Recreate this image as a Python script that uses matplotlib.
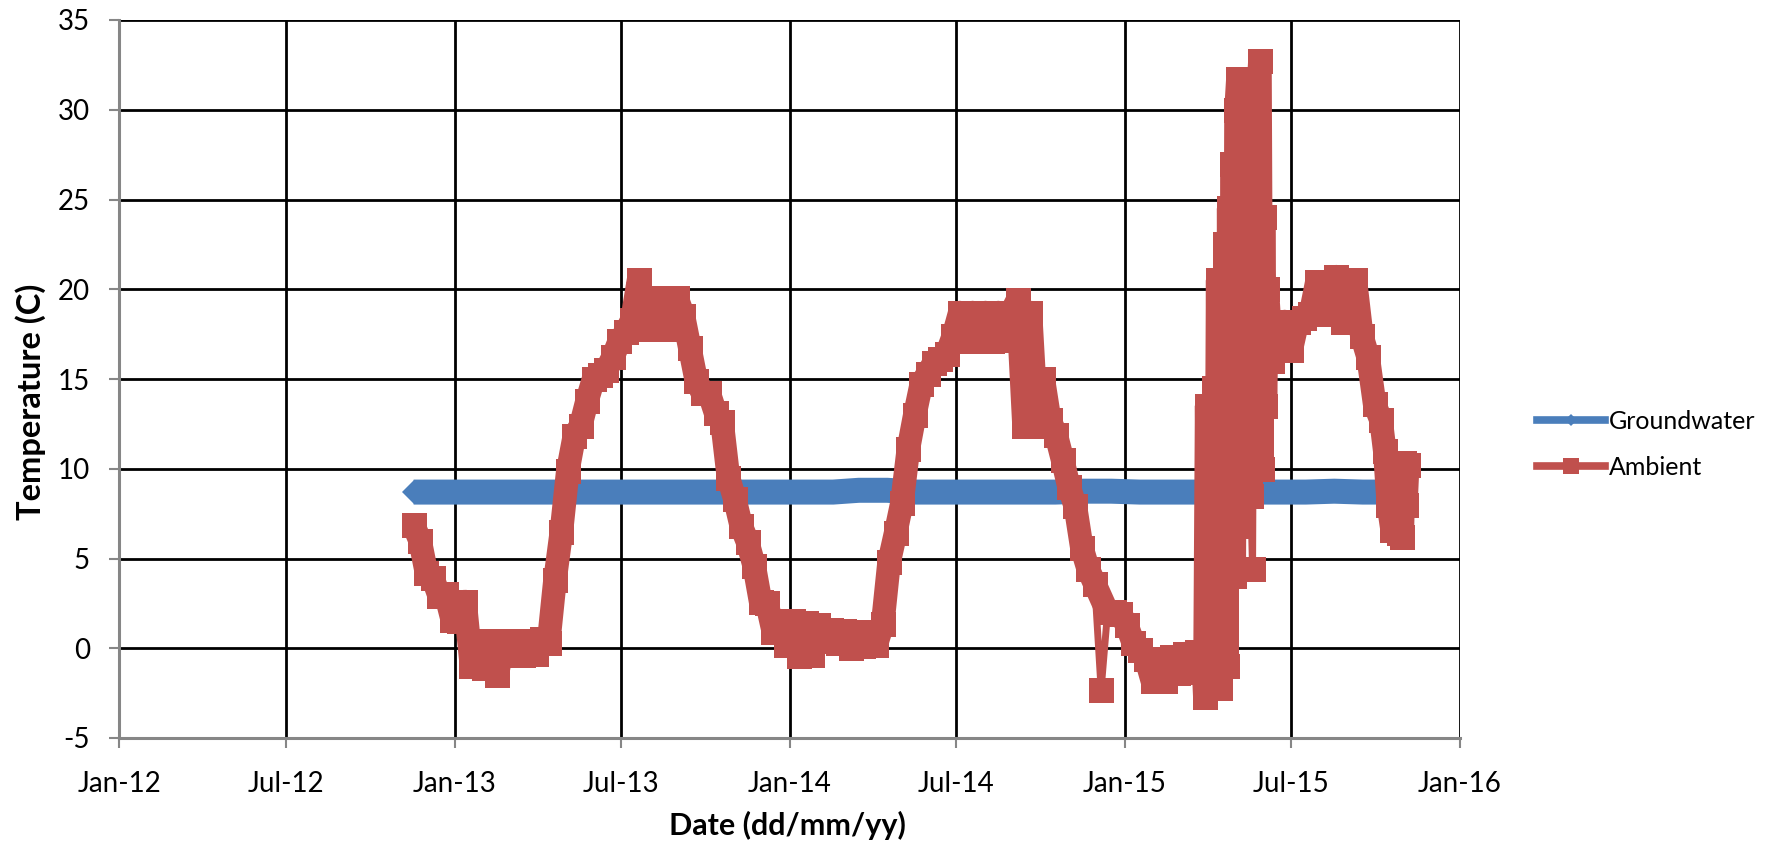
import numpy as np
import pandas as pd
import matplotlib
matplotlib.use('Agg')
import matplotlib.pyplot as plt
import matplotlib.dates as mdates
from matplotlib.lines import Line2D

plt.rcParams['font.family'] = ['Lato', 'DejaVu Sans']
plt.rcParams['axes.unicode_minus'] = False

# groundwater logger, monthly readings (C)
gw_start = '2012-11-17'
gw_temp = [8.7, 8.7, 8.7, 8.7, 8.7, 8.7, 8.7, 8.7, 8.7, 8.7, 8.7, 8.7,
           8.7, 8.7, 8.7, 8.7, 8.8, 8.8, 8.7, 8.7, 8.7, 8.7, 8.7, 8.7,
           8.75, 8.75, 8.7, 8.7, 8.7, 8.7, 8.7, 8.7, 8.7, 8.75, 8.7, 8.7]

# ambient logger, weekly readings Nov 2012 - Mar 2015
amb_wk1_start = '2012-11-17'
amb_wk1 = [6.85, 6.0, 4.2, 3.9, 2.9, 3.0, 1.6, 1.5, 2.6, -1.0,
           0.4, -1.1, 0.4, -1.47, 0.35, -0.4, 0.4, -0.36, 0.4, -0.3,
           0.5, 0.3, 3.8, 6.5, 9.9, 11.8, 12.4, 13.8, 15.0, 15.2,
           15.5, 16.2, 17.1, 17.6, 18.3, 20.5, 17.8, 18.6, 17.8, 19.5,
           17.8, 19.5, 18.5, 16.7, 14.9, 14.2, 14.2, 13.1, 12.6, 9.5,
           8.3, 6.8, 5.9, 4.6, 2.6, 2.5, 0.9, 1.5, 0.2, 1.5,
           -0.45, 1.4, -0.4, 1.3, 0.4, 1.0, 0.3, 0.95, 0.0, 0.9,
           0.1, 0.9, 0.2, 1.35, 4.8, 6.4, 8.1, 11.1, 13.0, 14.7,
           15.3, 15.9, 16.1, 16.4, 17.4, 18.7, 17.1, 18.7, 17.1, 18.7,
           17.1, 18.7, 17.2, 18.7, 19.4, 12.4, 18.7, 12.4, 15.0, 12.7,
           11.9, 10.5, 9.0, 7.9, 5.6, 4.4, 3.6, -2.3, 2.0, 2.0,
           1.9, 1.3, 0.3, -0.1, -0.6, -1.85, -0.6, -1.85, -0.5, -1.4,
           -0.3, -1.2, -0.2]

# spring 2015, every second day (very noisy readings)
amb_spr_start = '2015-03-25'
amb_spr = [-1.3, -0.4, -2.7, 13.5, 2.0, 11.0, -1.5, 14.5, 0.0, 20.5,
           -2.2, 18.0, 3.0, 22.5, -1.0, 24.5, 6.0, 27.0, 4.0, 30.0,
           31.7, 8.0, 29.0, 6.8, 27.5, 11.0, 30.5, 8.5, 4.4, 26.0,
           13.0, 31.0, 32.7, 10.0, 24.0, 13.5, 20.0]

# summer 2015, weekly
amb_wk2_start = '2015-06-10'
amb_wk2 = [16.0, 16.6, 18.2, 16.6, 18.2, 18.4, 18.6, 20.4, 18.6, 20.0,
           20.7, 18.2, 19.5, 20.5, 17.4, 16.2, 13.6, 12.7]

# last readings
amb_tail_dates = ['2015-10-11', '2015-10-15', '2015-10-19', '2015-10-23',
                  '2015-10-27', '2015-10-30', '2015-11-01', '2015-11-03',
                  '2015-11-05']
amb_tail = [11.0, 8.0, 6.6, 8.5, 6.4, 6.2, 10.3, 8.0, 10.2]

# single odd readings that sit apart from the band
amb_outlier_dates = ['2014-12-06', '2015-05-20']

yticks = [-5, 0, 5, 10, 15, 20, 25, 30, 35]
xticks = pd.date_range('2012-01-01', '2016-01-01', freq='6MS')

blue = '#4A7EBB'
red = '#C0504D'
axis_grey = '#868686'

gw_dates = pd.date_range(gw_start, periods=len(gw_temp), freq=pd.DateOffset(months=1))
amb_dates = pd.DatetimeIndex(np.concatenate([
    pd.date_range(amb_wk1_start, periods=len(amb_wk1), freq='7D').values,
    pd.date_range(amb_spr_start, periods=len(amb_spr), freq='2D').values,
    pd.date_range(amb_wk2_start, periods=len(amb_wk2), freq='7D').values,
    pd.to_datetime(amb_tail_dates).values]))
amb_temp = np.array(amb_wk1 + amb_spr + amb_wk2 + amb_tail, dtype=float)

# the excel chart has a marker for every logged value, so the series shows
# up as a solid band; a wide line under the markers gives the same look
amb_band = amb_temp.copy()
amb_band[amb_dates.isin(pd.to_datetime(amb_outlier_dates))] = np.nan
keep = ~np.isnan(amb_band)

fig = plt.figure(figsize=(17.8, 8.49), dpi=100)
ax = fig.add_axes([119/1780, 111/849, 1341/1780, 718/849])

# gridlines (black, as in the excel sheet)
for y in yticks[1:]:
    ax.axhline(y, color='black', lw=2, zorder=0.5)
for x in xticks[1:]:
    ax.axvline(x, color='black', lw=2, zorder=0.5)

ax.plot(gw_dates, gw_temp, color=blue, lw=18, solid_capstyle='butt',
        marker='D', ms=12.7, mew=0, zorder=2)
ax.plot(amb_dates[keep], amb_band[keep], color=red, lw=17,
        solid_capstyle='butt', solid_joinstyle='round', zorder=3)
ax.plot(amb_dates, amb_temp, color=red, lw=5, marker='s', ms=18,
        mew=0, zorder=3)

ax.set_xlim(pd.Timestamp('2012-01-01'), pd.Timestamp('2016-01-01'))
ax.set_ylim(-5, 35)
ax.set_yticks(yticks)
ax.set_xticks(xticks)
ax.xaxis.set_major_formatter(mdates.DateFormatter('%b-%y'))

for s in ['top', 'right']:
    ax.spines[s].set_visible(False)
for s in ['left', 'bottom']:
    ax.spines[s].set_color(axis_grey)
    ax.spines[s].set_linewidth(2.2)
    ax.spines[s].set_zorder(4)

ax.tick_params(axis='both', direction='out', length=7, width=1.5,
               color=axis_grey, labelsize=20)
ax.tick_params(axis='x', pad=17)
ax.tick_params(axis='y', pad=14)

ax.set_ylabel('Temperature (C)', fontsize=23.5, fontweight='bold')
ax.yaxis.set_label_coords(-0.0548, 0.468)
ax.set_xlabel('Date (dd/mm/yy)', fontsize=22, fontweight='bold')
ax.xaxis.set_label_coords(0.4985, -0.102)

handles = [Line2D([], [], color=blue, lw=5.5, marker='D', ms=6.3, mew=0),
           Line2D([], [], color=red, lw=5.5, marker='s', ms=11.5, mew=0)]
fig.legend(handles, ['Groundwater', 'Ambient'], loc='center left',
           bbox_to_anchor=(1537/1780, 1 - 444.5/849), frameon=False,
           borderpad=0, borderaxespad=0, handlelength=2.72,
           handletextpad=0.16, labelspacing=0.9, fontsize=18)

fig.savefig('out.png', dpi=100)
